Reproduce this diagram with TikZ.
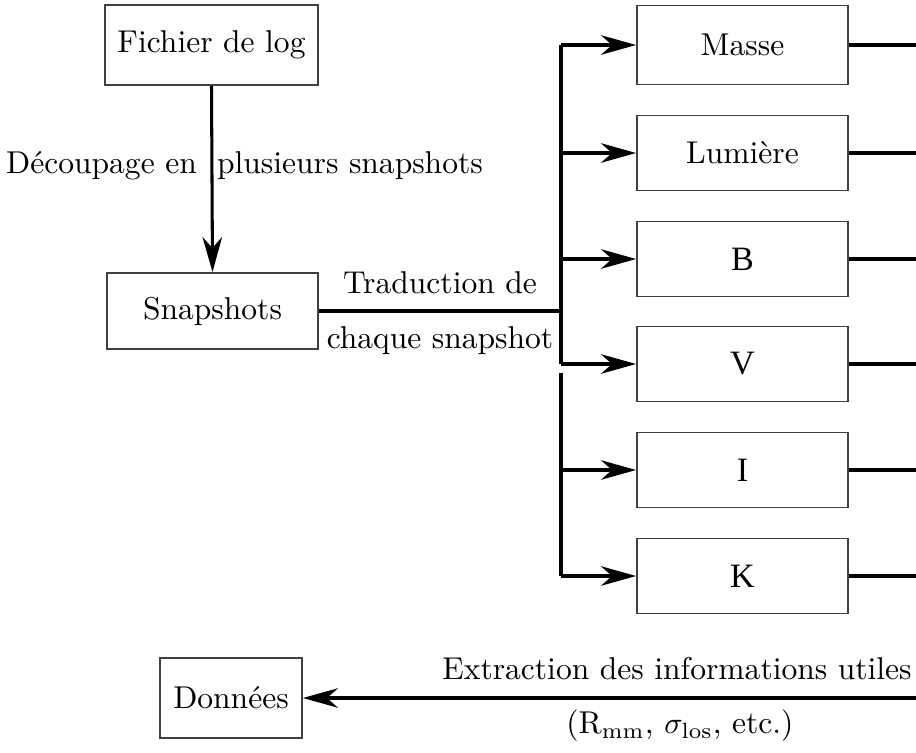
\documentclass[tikz,border=0pt]{standalone}
\usepackage{fontspec}
\newfontfamily\timesf{Liberation Serif}
\usetikzlibrary{arrows.meta}
\begin{document}
\begin{tikzpicture}[x=0.328pt,y=-0.328pt,
  font=\fontsize{10.35}{12.4}\selectfont,
  box/.style={draw=black!75, line width=0.6pt, inner sep=0pt, align=center},
  tbox/.style={box, font=\fontsize{11.2}{13}\selectfont\timesf},
  conn/.style={line width=1pt},
  arr/.style={line width=1pt, -{Stealth[length=11.5pt,width=6.4pt,inset=3.6pt]}},
  lbl/.style={inner sep=0pt}]
\useasboundingbox (0,0) rectangle (916,752);
% boxes
\node[box, minimum width=213*0.328pt, minimum height=80*0.328pt] (fichier) at (211.5,45) {Fichier de log};
\node[box, minimum width=211*0.328pt, minimum height=76*0.328pt] (snap) at (212.5,311) {Snapshots};
\node[box, minimum width=211*0.328pt, minimum height=79*0.328pt] (masse) at (742.5,45) {Masse};
\node[box, minimum width=211*0.328pt, minimum height=75*0.328pt] (lum) at (742.5,153) {Lumière};
\node[tbox, minimum width=211*0.328pt, minimum height=75*0.328pt] (bb) at (742.5,259) {B};
\node[tbox, minimum width=211*0.328pt, minimum height=75*0.328pt] (vv) at (742.5,364) {V};
\node[tbox, minimum width=211*0.328pt, minimum height=75*0.328pt] (ii) at (742.5,470) {I};
\node[tbox, minimum width=211*0.328pt, minimum height=75*0.328pt] (kk) at (742.5,576) {K};
\node[box, minimum width=142*0.328pt, minimum height=80*0.328pt] (donnees) at (231,698) {Données};
% labels
\node[lbl] (l1) at (244.5,166) {Découpage en\hspace{3.2pt} plusieurs snapshots};
\node[lbl] (l2) at (440,283) {Traduction de};
\node[lbl] (l3) at (440,341) {chaque snapshot};
\node[lbl] (l4) at (677,669) {Extraction des informations utiles};
\node[lbl] (l5) at (680,726) {(R$_{\mathrm{mm}}$, $\sigma_{\mathrm{los}}$, etc.)};
% coordinates
\coordinate (j) at (561,311);
\coordinate (jtop) at (561,45);
\coordinate (jv) at (561,364);
\coordinate (j2) at (561,373);
\coordinate (jk) at (561,576);
\coordinate (em) at (916,45);
\coordinate (el) at (916,153);
\coordinate (eb) at (916,259);
\coordinate (ev) at (916,364);
\coordinate (ei) at (916,470);
\coordinate (ek) at (916,576);
\coordinate (ed) at (916,698);
% connectors
\draw[arr] (fichier.south) -- (snap.north);
\draw[conn] (snap.east) -- (j);
\draw[conn] (jtop) -- (jv);
\draw[conn] (j2) -- (jk);
\draw[arr] (jtop) -- (masse.west);
\draw[arr] (jtop |- lum.west) -- (lum.west);
\draw[arr] (jtop |- bb.west) -- (bb.west);
\draw[arr] (jv) -- (vv.west);
\draw[arr] (jtop |- ii.west) -- (ii.west);
\draw[arr] (jk) -- (kk.west);
\draw[conn] (masse.east) -- (em);
\draw[conn] (lum.east) -- (el);
\draw[conn] (bb.east) -- (eb);
\draw[conn] (vv.east) -- (ev);
\draw[conn] (ii.east) -- (ei);
\draw[conn] (kk.east) -- (ek);
\draw[arr] (ed) -- (donnees.east);
\end{tikzpicture}
\end{document}
